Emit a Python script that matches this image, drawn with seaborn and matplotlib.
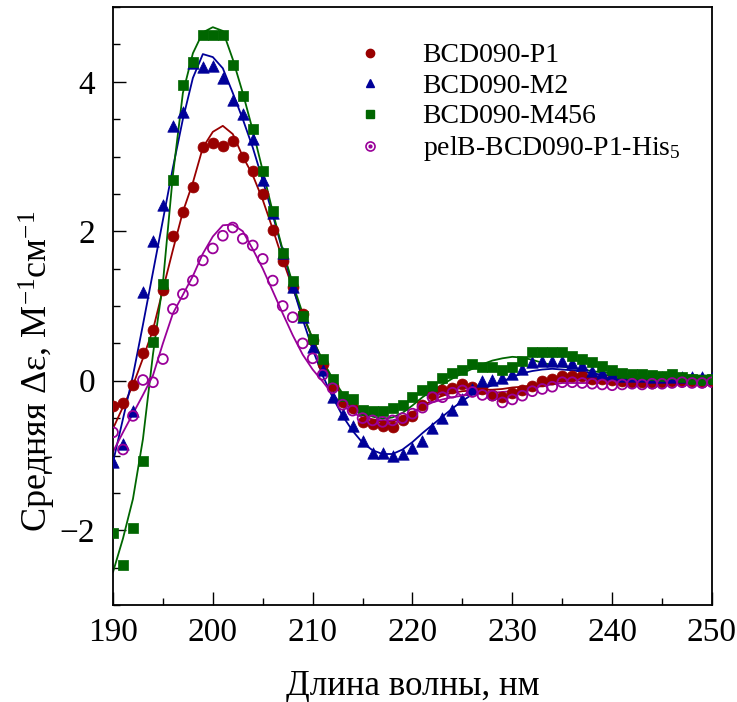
import numpy as np
import pandas as pd
import matplotlib
matplotlib.use("Agg")
import matplotlib.pyplot as plt
import seaborn as sns
from matplotlib.lines import Line2D
from matplotlib.legend_handler import HandlerTuple
from matplotlib.ticker import MultipleLocator

# ---------------- data ----------------
wavelength = list(range(190, 251))

p1_points = [-0.34, -0.30, -0.06, 0.37, 0.68, 1.21, 1.94, 2.26, 2.59, 3.13,
             3.18, 3.14, 3.21, 3.00, 2.80, 2.50, 2.02, 1.60, 1.26, 0.89,
             0.55, 0.22, -0.07, -0.28, -0.37, -0.55, -0.58, -0.60, -0.62, -0.52,
             -0.47, -0.33, -0.18, -0.13, -0.10, -0.04, -0.08, -0.11, -0.19, -0.22,
             -0.16, -0.12, -0.07, 0.00, 0.03, 0.07, 0.06, 0.06, 0.03, 0.02,
             0.01, 0.00, -0.02, -0.02, -0.03, -0.02, 0.00, 0.00, 0.00, -0.02,
             0.00]
m2_points = [-1.09, -0.85, -0.41, 1.19, 1.87, 2.35, 3.41, 3.60, 4.25, 4.20,
             4.21, 4.05, 3.76, 3.57, 3.24, 2.68, 2.25, 1.71, 1.25, 0.85,
             0.45, 0.14, -0.22, -0.44, -0.61, -0.80, -0.96, -0.96, -1.01, -0.98,
             -0.90, -0.81, -0.63, -0.50, -0.39, -0.24, -0.11, 0.00, 0.01, 0.04,
             0.09, 0.16, 0.25, 0.27, 0.27, 0.27, 0.24, 0.21, 0.13, 0.11,
             0.09, 0.07, 0.06, 0.06, 0.05, 0.05, 0.05, 0.05, 0.05, 0.05,
             0.04]
m456_points = [-2.04, -2.46, -1.97, -1.08, 0.52, 1.30, 2.69, 3.95, 4.26, 4.63,
               4.63, 4.62, 4.23, 3.81, 3.37, 2.81, 2.27, 1.71, 1.33, 0.86,
               0.56, 0.29, 0.02, -0.20, -0.25, -0.39, -0.41, -0.41, -0.37, -0.32,
               -0.22, -0.12, -0.07, 0.04, 0.10, 0.14, 0.22, 0.18, 0.19, 0.15,
               0.18, 0.27, 0.38, 0.39, 0.39, 0.39, 0.33, 0.29, 0.25, 0.20,
               0.15, 0.10, 0.09, 0.09, 0.08, 0.06, 0.09, 0.05, 0.03, 0.01,
               0.02]
pelb_points = [-0.69, -0.92, -0.47, 0.01, -0.02, 0.29, 0.96, 1.16, 1.34, 1.61,
               1.77, 1.94, 2.05, 1.90, 1.81, 1.63, 1.34, 1.00, 0.85, 0.50,
               0.30, 0.08, -0.10, -0.32, -0.40, -0.50, -0.53, -0.55, -0.53, -0.50,
               -0.44, -0.36, -0.22, -0.22, -0.16, -0.13, -0.15, -0.19, -0.20, -0.29,
               -0.25, -0.20, -0.14, -0.11, -0.08, -0.02, -0.02, -0.03, -0.04, -0.05,
               -0.06, -0.05, -0.04, -0.05, -0.04, -0.04, -0.03, -0.02, -0.03, -0.03,
               -0.02]

# fitted curves
p1_fit = [-0.64, -0.35, -0.06, 0.30, 0.68, 1.22, 1.75, 2.26, 2.65, 3.12,
          3.33, 3.41, 3.30, 3.00, 2.75, 2.42, 2.03, 1.62, 1.24, 0.88,
          0.56, 0.26, 0.00, -0.21, -0.36, -0.46, -0.52, -0.55, -0.55, -0.50,
          -0.43, -0.34, -0.26, -0.20, -0.16, -0.14, -0.13, -0.12, -0.12, -0.11,
          -0.09, -0.08, -0.06, -0.04, -0.02, -0.01, 0.00, 0.01, 0.01, 0.02,
          0.02, 0.02, 0.02, 0.02, 0.02, 0.02, 0.02, 0.02, 0.02, 0.02,
          0.02]
m2_fit = [-1.09, -0.51, 0.07, 0.75, 1.45, 2.15, 2.85, 3.50, 4.05, 4.37,
          4.33, 4.18, 3.85, 3.50, 3.12, 2.68, 2.22, 1.73, 1.26, 0.82,
          0.42, 0.07, -0.22, -0.47, -0.67, -0.83, -0.93, -0.98, -0.98, -0.92,
          -0.82, -0.70, -0.59, -0.48, -0.37, -0.27, -0.18, -0.11, -0.06, -0.01,
          0.05, 0.10, 0.13, 0.15, 0.16, 0.15, 0.14, 0.12, 0.10, 0.08,
          0.07, 0.06, 0.06, 0.06, 0.06, 0.06, 0.06, 0.06, 0.06, 0.06,
          0.06]
m456_fit = [-2.56, -2.11, -1.58, -0.78, 0.35, 1.31, 2.75, 3.85, 4.38, 4.66,
            4.73, 4.68, 4.30, 3.85, 3.35, 2.81, 2.26, 1.75, 1.30, 0.90,
            0.56, 0.27, 0.03, -0.17, -0.32, -0.42, -0.48, -0.51, -0.49, -0.43,
            -0.33, -0.22, -0.13, -0.05, 0.03, 0.10, 0.16, 0.22, 0.27, 0.30,
            0.32, 0.31, 0.28, 0.24, 0.21, 0.19, 0.17, 0.15, 0.13, 0.11,
            0.10, 0.09, 0.08, 0.07, 0.07, 0.07, 0.07, 0.07, 0.07, 0.07,
            0.07]
pelb_fit = [-0.95, -0.69, -0.44, -0.19, 0.07, 0.50, 0.90, 1.15, 1.40, 1.70,
            1.93, 2.08, 2.09, 2.00, 1.76, 1.50, 1.20, 0.90, 0.61, 0.35,
            0.15, -0.01, -0.18, -0.33, -0.43, -0.49, -0.52, -0.53, -0.53, -0.49,
            -0.42, -0.35, -0.29, -0.25, -0.22, -0.20, -0.18, -0.17, -0.16, -0.15,
            -0.14, -0.13, -0.10, -0.07, -0.05, -0.03, -0.03, -0.03, -0.03, -0.02,
            -0.01, -0.01, -0.01, -0.01, -0.01, 0.00, 0.00, 0.00, 0.00, 0.00,
            0.00]

labels = ["BCD090-P1", "BCD090-M2", "BCD090-M456", "pelB-BCD090-P1-His$_5$"]
colors = ["#990000", "#000099", "#006600", "#990099"]

x_ticks = [190, 200, 210, 220, 230, 240, 250]
y_ticks = [-2, 0, 2, 4]

# ---------------- style ----------------
sns.set_style("white")
plt.rcParams["font.family"] = ["Liberation Serif", "DejaVu Serif"]
plt.rcParams["mathtext.fontset"] = "custom"
plt.rcParams["mathtext.rm"] = "Liberation Serif"
plt.rcParams["mathtext.it"] = "Liberation Serif:italic"
plt.rcParams["mathtext.bf"] = "Liberation Serif:bold"
plt.rcParams["axes.unicode_minus"] = True
plt.rcParams["text.color"] = "black"
plt.rcParams["axes.labelcolor"] = "black"
plt.rcParams["xtick.color"] = "black"
plt.rcParams["ytick.color"] = "black"

fig = plt.figure(figsize=(7.37, 7.02), dpi=100)
ax = fig.add_axes([113 / 737, 1 - 605 / 702, (712 - 113) / 737, (605 - 7) / 702])

df_pts = pd.DataFrame({
    "wl": wavelength * 4,
    "val": p1_points + m2_points + m456_points + pelb_points,
    "series": sum([[l] * len(wavelength) for l in labels], []),
})
df_fit = pd.DataFrame({
    "wl": wavelength * 4,
    "val": p1_fit + m2_fit + m456_fit + pelb_fit,
    "series": sum([[l] * len(wavelength) for l in labels], []),
})

markers = ["o", "^", "s", "o"]
sizes = [62, 68, 60, 50]

for lab, col in zip(labels, colors):
    d = df_fit[df_fit.series == lab]
    sns.lineplot(data=d, x="wl", y="val", color=col, linewidth=1.3, ax=ax,
                 estimator=None, sort=False, zorder=2)

for lab, col, mk, sz in zip(labels, colors, markers, sizes):
    d = df_pts[df_pts.series == lab]
    if lab.startswith("pelB"):
        sns.scatterplot(data=d, x="wl", y="val", marker=mk, s=sz, color=col,
                        facecolor="none", edgecolor=col, linewidth=1.3,
                        ax=ax, zorder=3, clip_on=True)
    else:
        sns.scatterplot(data=d, x="wl", y="val", marker=mk, s=sz, color=col,
                        edgecolor=col, linewidth=0.5, ax=ax, zorder=3,
                        clip_on=True)

ax.set_xlim(190, 250)
ax.set_ylim(-3, 5)
ax.set_xticks(x_ticks)
ax.set_yticks(y_ticks)
ax.xaxis.set_minor_locator(MultipleLocator(5))
ax.yaxis.set_minor_locator(MultipleLocator(0.5))
ax.tick_params(axis="both", which="both", direction="in", top=False, right=False,
               bottom=True, left=True, color="black")
ax.tick_params(axis="both", which="major", length=9.5, width=1.0, labelsize=24)
ax.tick_params(axis="both", which="minor", length=4.8, width=1.0)
ax.tick_params(axis="x", which="major", pad=9)
ax.tick_params(axis="y", which="major", pad=13)
for sp in ax.spines.values():
    sp.set_visible(True)
    sp.set_color("black")
    sp.set_linewidth(1.3)

ax.set_xlabel("Длина волны, нм", fontsize=25, labelpad=16)
ax.set_ylabel("Средняя Δε, М$^{-1}$см$^{-1}$", fontsize=26)
ax.yaxis.set_label_coords(-0.092, 0.39)

# legend
handles = [
    Line2D([], [], linestyle="none", marker="o", markersize=6, color=colors[0]),
    Line2D([], [], linestyle="none", marker="^", markersize=6, color=colors[1]),
    Line2D([], [], linestyle="none", marker="s", markersize=6, color=colors[2]),
    (Line2D([], [], linestyle="none", marker="o", markersize=6.5, markerfacecolor="none",
            markeredgecolor=colors[3], markeredgewidth=1.2),
     Line2D([], [], linestyle="none", marker="o", markersize=2, color=colors[3])),
]
ax.legend(handles, labels, loc="upper left", bbox_to_anchor=(356 / 737, 1 - 43 / 702),
          bbox_transform=fig.transFigure, frameon=False, fontsize=20,
          handlelength=1.0, handletextpad=1.4, labelspacing=0.18, borderpad=0,
          borderaxespad=0, handler_map={tuple: HandlerTuple(ndivide=1)})

fig.savefig("out.png", dpi=100)
